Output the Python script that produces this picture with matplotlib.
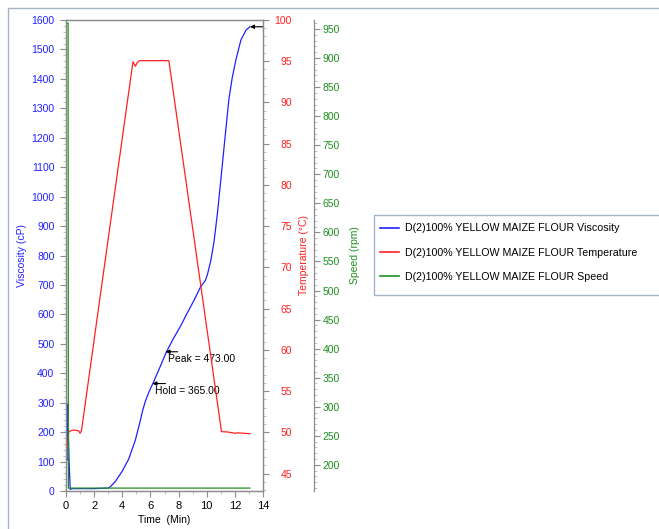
import matplotlib
matplotlib.use("Agg")
import matplotlib.pyplot as plt
from matplotlib.patches import Rectangle
from matplotlib.ticker import MultipleLocator

plt.rcParams['font.family'] = ['Liberation Sans', 'DejaVu Sans']
plt.rcParams['font.size'] = 7.5

# RVA pasting curve, 100% yellow maize flour
visc_time = [0.0, 0.07, 0.12, 0.17, 0.22, 0.3, 0.4, 1.0, 2.0, 2.5, 3.0, 3.14, 3.5,
             3.98, 4.45, 4.93, 5.29, 5.45, 5.64, 5.9, 6.2, 6.6, 7.14, 7.6, 8.14, 8.6, 9.1,
             9.57, 9.9, 10.05, 10.3, 10.52, 10.76, 11.0, 11.3, 11.57, 11.8, 12.07,
             12.43, 12.8, 13.07]
viscosity = [120, 105, 295, 200, 100, 5, 8, 8, 8, 9, 10, 14, 32,
             66, 108, 173, 241, 274, 305, 337, 368, 412, 473, 515, 560, 603, 648,
             694, 715, 735, 785, 847, 943, 1056, 1200, 1328, 1400, 1464,
             1532, 1566, 1577]

temp_time = [0.0, 0.1, 0.2, 0.5, 0.9, 1.0, 1.1, 2.78, 4.76, 4.93, 5.05, 5.21,
             7.31, 11.05, 11.5, 12.0, 12.2, 13.07]
temperature = [47.7, 48.5, 50.1, 50.3, 50.2, 49.9, 50.2, 70.8, 94.95, 94.4, 94.8, 95.07,
               95.07, 50.1, 50.05, 49.9, 49.95, 49.85]

speed_time = [0.1, 0.15, 0.17, 13.07]
speed = [960, 960, 160, 160]

peak_time, peak_value = 7.07, 473.00
hold_time, hold_value = 6.14, 365.00
final_time, final_value = 13.07, 1577

series_names = ['D(2)100% YELLOW MAIZE FLOUR Viscosity',
                'D(2)100% YELLOW MAIZE FLOUR Temperature',
                'D(2)100% YELLOW MAIZE FLOUR Speed']

blue, red, green = '#2020ff', '#ff2020', '#1f8f1f'
spine_grey = '#8c8c8c'

W, H = 659, 529
fig = plt.figure(figsize=(W / 100, H / 100), dpi=100)

# window border
fig.patches.append(Rectangle((8 / W, -0.1), 1.2, 1.1 - 8 / H, transform=fig.transFigure,
                             fill=False, edgecolor='#a3b4c6', lw=1.0))

ax = fig.add_axes([66 / W, 1 - 491 / H, 197 / W, 471 / H])
ax2 = ax.twinx()
ax3 = ax.twinx()
ax3.spines['right'].set_position(('axes', (314 - 66) / 197))
for a in (ax, ax2, ax3):
    for s in a.spines.values():
        s.set_color(spine_grey)
        s.set_linewidth(0.9)
ax3.spines['top'].set_visible(False)
ax3.spines['bottom'].set_visible(False)
ax3.spines['left'].set_visible(False)

l1, = ax.plot(visc_time, viscosity, color=blue, lw=0.9, zorder=3)
l2, = ax2.plot(temp_time, temperature, color=red, lw=0.9)
l3, = ax3.plot(speed_time, speed, color=green, lw=0.9)

ax.set_xlim(0, 14)
ax.set_ylim(0, 1600)
ax2.set_ylim(42.9, 100)
ax3.set_ylim(155, 965.5)

ax.xaxis.set_major_locator(MultipleLocator(2))
ax.xaxis.set_minor_locator(MultipleLocator(1))
ax.yaxis.set_major_locator(MultipleLocator(100))
ax.yaxis.set_minor_locator(MultipleLocator(20))
ax2.set_yticks(range(45, 101, 5))
ax2.yaxis.set_minor_locator(MultipleLocator(1))
ax3.set_yticks(range(200, 951, 50))
ax3.yaxis.set_minor_locator(MultipleLocator(10))

for a in (ax, ax2, ax3):
    a.tick_params(which='major', length=4.3, width=0.8, color=spine_grey)
    a.tick_params(which='minor', length=2.2, width=0.7, color='#c0c0c0')
ax.tick_params(axis='x', which='both', colors=spine_grey, labelcolor='black', pad=3, labelsize=8)
ax.tick_params(axis='x', which='minor', color='#c0c0c0')
ax.tick_params(axis='y', labelcolor=blue, pad=4)
ax2.tick_params(axis='y', labelcolor=red, pad=16.5)
plt.setp(ax2.get_yticklabels(), ha='right')
ax3.tick_params(axis='y', labelcolor=green, pad=2)

ax.set_xlabel('Time  (Min)', labelpad=3)
ax.set_ylabel('Viscosity (cP)', color=blue)
ax.yaxis.set_label_coords((27 - 66) / 197, 0.5)
ax2.set_ylabel('Temperature (°C)', color=red)
ax2.yaxis.set_label_coords((299 - 66) / 197, 0.5)
ax3.set_ylabel('Speed (rpm)', color=green)
ax3.yaxis.set_label_coords((350 - 66) / 197, 0.5)

# peak / hold / final markers
arrow = dict(arrowstyle='-|>', color='black', lw=0.8, mutation_scale=6, shrinkA=0, shrinkB=0)
ax.annotate('', xy=(peak_time, peak_value), xytext=(peak_time + 0.86, peak_value), arrowprops=arrow)
ax.text(peak_time + 0.19, peak_value - 25, f'Peak = {peak_value:.2f}', ha='left', va='center')
ax.annotate('', xy=(hold_time, hold_value), xytext=(hold_time + 0.93, hold_value), arrowprops=arrow)
ax.text(hold_time + 0.17, hold_value - 25, f'Hold = {hold_value:.2f}', ha='left', va='center')
ax.annotate('', xy=(final_time, final_value), xytext=(14, final_value), arrowprops=arrow)

# legend with a frame running past the right edge
leg = fig.legend([l1, l2, l3], series_names, loc='upper left',
                 bbox_to_anchor=(376 / W, 1 - 219 / H), frameon=False,
                 handlelength=1.75, handletextpad=0.6, labelspacing=1.35,
                 borderaxespad=0, fontsize=7.7)
for line in leg.get_lines():
    line.set_linewidth(1.2)
fig.patches.append(Rectangle((374 / W, 1 - 295 / H), 1.0, 80 / H, transform=fig.transFigure,
                             fill=False, edgecolor='#a3b4c6', lw=1.0))

fig.savefig('out.png', dpi=100)
